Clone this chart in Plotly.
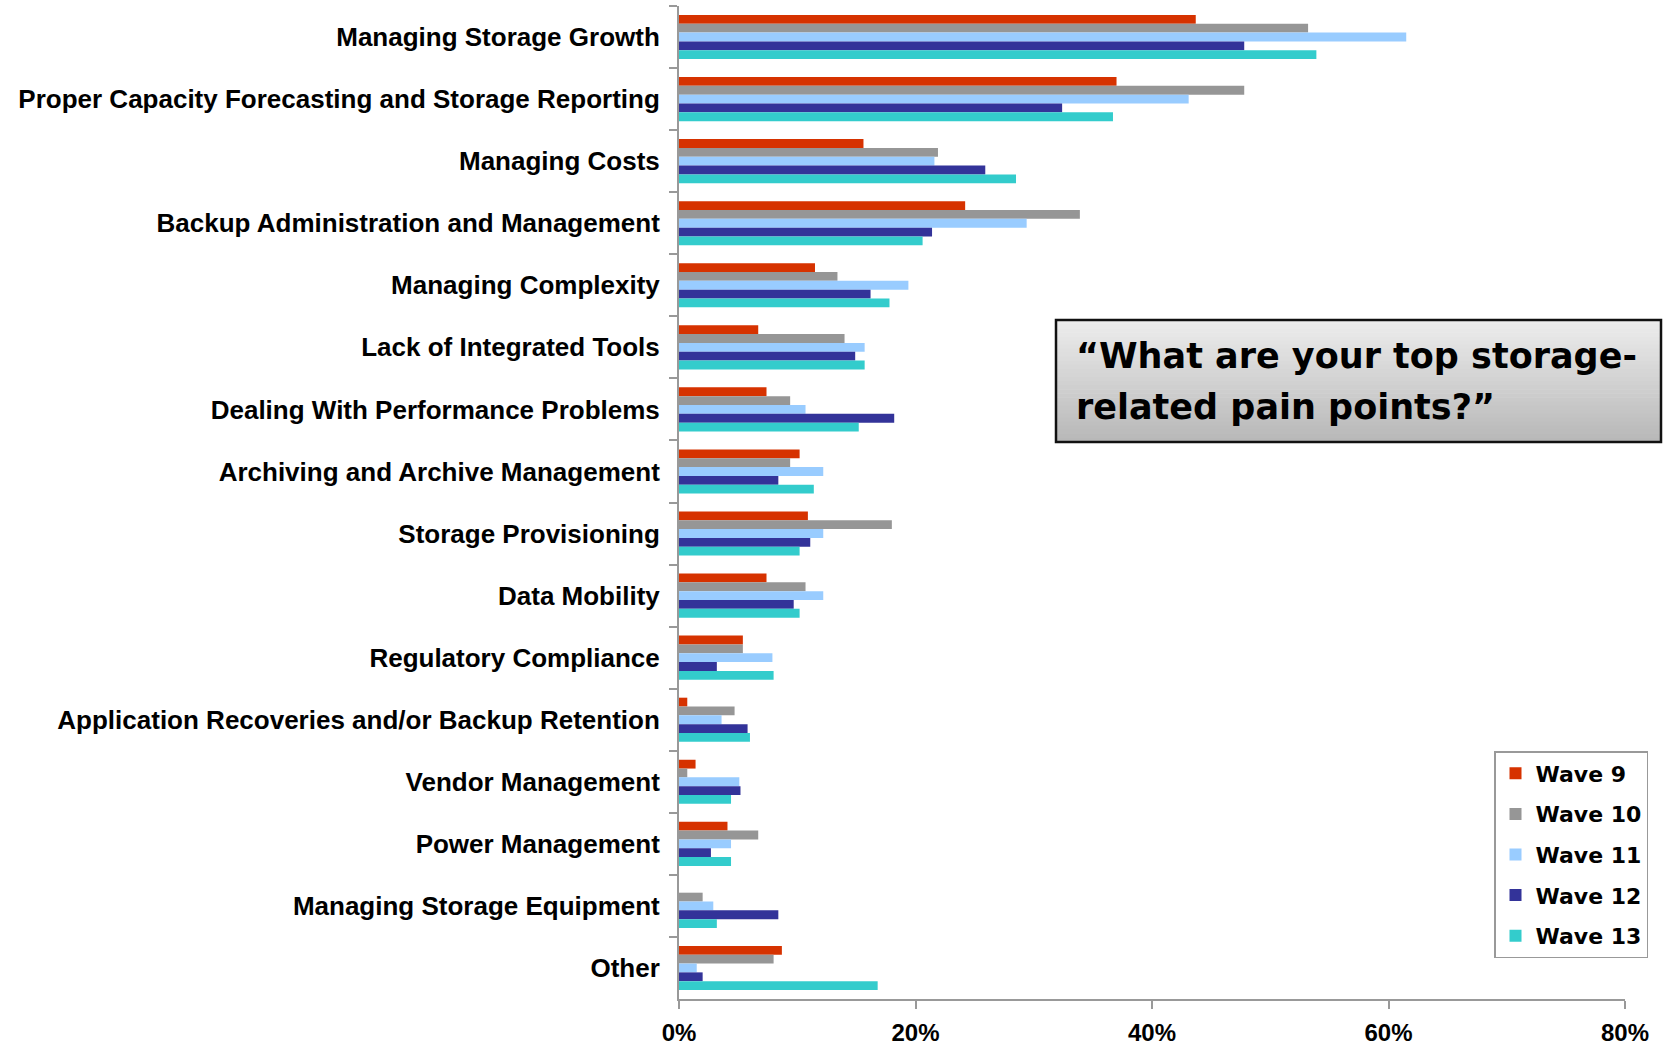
import plotly.graph_objects as go

categories = [
    "Managing Storage Growth",
    "Proper Capacity Forecasting and Storage Reporting",
    "Managing Costs",
    "Backup Administration and Management",
    "Managing Complexity",
    "Lack of Integrated Tools",
    "Dealing With Performance Problems",
    "Archiving and Archive Management",
    "Storage Provisioning",
    "Data Mobility",
    "Regulatory Compliance",
    "Application Recoveries and/or Backup Retention",
    "Vendor Management",
    "Power Management",
    "Managing Storage Equipment",
    "Other",
]

wave9 = [43.7, 37.0, 15.6, 24.2, 11.5, 6.7, 7.4, 10.2, 10.9, 7.4, 5.4, 0.7, 1.4, 4.1, 0.0, 8.7]
wave10 = [53.2, 47.8, 21.9, 33.9, 13.4, 14.0, 9.4, 9.4, 18.0, 10.7, 5.4, 4.7, 0.7, 6.7, 2.0, 8.0]
wave11 = [61.5, 43.1, 21.6, 29.4, 19.4, 15.7, 10.7, 12.2, 12.2, 12.2, 7.9, 3.6, 5.1, 4.4, 2.9, 1.5]
wave12 = [47.8, 32.4, 25.9, 21.4, 16.2, 14.9, 18.2, 8.4, 11.1, 9.7, 3.2, 5.8, 5.2, 2.7, 8.4, 2.0]
wave13 = [53.9, 36.7, 28.5, 20.6, 17.8, 15.7, 15.2, 11.4, 10.2, 10.2, 8.0, 6.0, 4.4, 4.4, 3.2, 16.8]

series_names = ["Wave 9", "Wave 10", "Wave 11", "Wave 12", "Wave 13"]
series_values = [wave9, wave10, wave11, wave12, wave13]
series_colors = ["#D63200", "#969696", "#99CCFF", "#333399", "#33CCCC"]

x_tick_vals = [0, 20, 40, 60, 80]
x_tick_text = ["0%", "20%", "40%", "60%", "80%"]

question_lines = ["\u201cWhat are your top storage-", "related pain points?\u201d"]

W, H = 1663, 1047
L, R, T, B = 679, 38, 6, 48
PW, PH = W - L - R, H - T - B


def px(x):
    return (x - L) / PW


def py(y):
    return (H - B - y) / PH


fig = go.Figure()
for name, vals, col in zip(series_names, series_values, series_colors):
    fig.add_trace(go.Bar(
        y=categories, x=vals, name=name, orientation="h",
        marker=dict(color=col, line=dict(width=0)),
        legendgroup=name,
    ))

shapes = []
# gradient box behind the question
bx0, bx1, by0, by1 = 1056, 1661, 320, 442
n = 30
top_c, bot_c = 0xEC, 0xB8
for i in range(n):
    c = int(round(top_c + (bot_c - top_c) * i / (n - 1)))
    ya = by0 + (by1 - by0) * i / n
    yb = by0 + (by1 - by0) * (i + 1) / n
    shapes.append(dict(type="rect", xref="paper", yref="paper",
                       x0=px(bx0), x1=px(bx1), y0=py(ya), y1=py(yb + 0.6),
                       fillcolor=f"rgb({c},{c},{c})", line=dict(width=0), layer="below"))
shapes.append(dict(type="rect", xref="paper", yref="paper",
                   x0=px(bx0), x1=px(bx1), y0=py(by1), y1=py(by0),
                   fillcolor="rgba(0,0,0,0)", line=dict(color="#111111", width=2.5)))

annotations = []
for i, line in enumerate(question_lines):
    annotations.append(dict(
        text=line, xref="paper", yref="paper", x=px(1074), y=py(356 + i * 51),
        xanchor="left", yanchor="middle", showarrow=False,
        font=dict(family="DejaVu Sans", size=35, color="#000000", weight="bold"),
    ))

fig.update_layout(
    width=W, height=H, autosize=False,
    margin=dict(l=L, r=R, t=T, b=B, pad=0),
    paper_bgcolor="white", plot_bgcolor="white",
    barmode="group", bargap=0.29, bargroupgap=0,
    font=dict(family="Liberation Sans, Arial", color="#000000"),
    showlegend=True,
    legend=dict(
        x=px(1494), y=py(751), xanchor="left", yanchor="top",
        bgcolor="white", bordercolor="#999999", borderwidth=1.5,
        font=dict(family="DejaVu Sans", size=22, color="#000000", weight="bold"),
        tracegroupgap=9, itemwidth=30, traceorder="grouped",
    ),
    shapes=shapes,
    annotations=annotations,
)

fig.update_yaxes(
    autorange="reversed", type="category", automargin=False,
    showline=True, linecolor="#999999", linewidth=2,
    ticks="outside", tickson="boundaries", ticklen=8, tickcolor="#999999", tickwidth=2,
    ticklabelstandoff=12,
    tickfont=dict(family="Liberation Sans, Arial", size=26, color="#000000", weight="bold"),
    showgrid=False, zeroline=False,
)
fig.update_xaxes(
    range=[0, 80], tickvals=x_tick_vals, ticktext=x_tick_text, automargin=False,
    showline=True, linecolor="#999999", linewidth=2,
    ticks="outside", ticklen=8, tickcolor="#999999", tickwidth=2,
    ticklabelstandoff=3,
    tickfont=dict(family="Liberation Sans, Arial", size=24, color="#000000", weight="bold"),
    showgrid=False, zeroline=False,
)

fig.write_html("out.html", config={"displayModeBar": False},
               post_script="document.body.style.margin='0';")
